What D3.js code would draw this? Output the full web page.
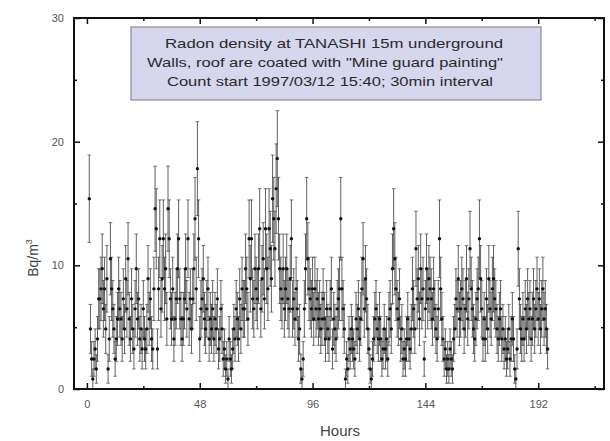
<!DOCTYPE html>
<html><head><meta charset="utf-8">
<script src="https://cdn.jsdelivr.net/npm/d3@7"></script>
<style>body{margin:0;background:#fff}svg{display:block}</style>
</head><body>
<svg id="c" width="610" height="441"></svg>
<script>
// ---- data ----
const startHour = 1;          // first count (hours after start)
const intervalHours = 0.5;    // 30 min interval
// discrete Bq/m3 levels seen in the plot and their error-bar half-lengths
const levelValue = [0,0.81,1.62,2.43,3.24,4.05,4.86,5.67,6.48,7.29,8.1,8.91,9.72,10.53,11.34,12.15,12.96,13.77,14.58,15.39,16.2,17.01,17.82,18.63];
const levelError = [0.4,0.81,1.15,1.4,1.62,1.81,1.98,2.14,2.29,2.43,2.56,2.69,2.81,2.92,3.03,3.14,3.24,3.34,3.44,3.53,3.62,3.71,3.8,3.88];
// level index of each 30-min count
const countLevel = [
19,6,3,1, 3,4,2,5, 9,9,10,12, 8,10,6,11, 2,5,13,10, 8,6,3,5, 7,10,8,7, 5,9,6,11,
8,13,7,5, 9,6,4,8, 12,7,9,5, 6,4,8,5, 4,6,11,7, 9,5,4,10, 18,16,4,10, 15,8,11,15,
10,12,7,18, 15,9,7,10, 5,7,9,12, 15,9,7,5, 7,9,12,8, 15,7,9,6, 9,12,17,10, 22,15,5,8,
9,11,7,6, 8,10,5,7, 6,8,5,7, 6,9,4,5, 8,6,3,4, 2,3,1,5, 3,2,4,6, 5,8,7,5,
9,6,10,8, 8,12,10,7, 15,11,15,9, 8,12,10,9, 12,16,8,11, 13,9,16,12, 10,16,14,11, 19,17,14,20,
23,17,12,10, 9,12,8,10, 12,9,8,11, 15,8,9,7, 10,8,5,6, 2,1,3,8, 12,17,13,10, 9,8,10,7,
10,8,9,7, 8,6,7,9, 7,5,8,6, 5,8,10,4, 7,6,5,8, 9,10,17,10, 8,6,1,3, 2,5,4,6,
5,4,3,7, 6,8,5,7, 10,13,8,11, 9,6,4,2, 1,3,5,7, 8,6,5,7, 5,3,4,6, 4,5,3,7,
8,6,12,16, 13,10,8,7, 9,5,6,3, 4,3,5,7, 5,4,6,10, 8,6,14,9, 11,7,12,9, 10,3,8,12,
9,11,10,9, 7,10,8,6, 5,8,15,10, 7,5,3,4, 2,3,2,4, 3,2,5,6, 9,8,11,7, 8,10,9,6,
8,11,7,9, 14,10,8,6, 5,7,9,10, 15,11,8,5, 7,5,9,6, 11,8,7,10, 11,9,8,6, 5,7,8,5,
6,4,5,3, 4,6,3,5, 7,5,2,1, 4,14,9,6, 5,7,5,8, 6,9,7,8, 5,7,9,6, 8,10,7,9,
6,8,10,7, 8,6,4
];
const xTicks = [0,48,96,144,192];
const xMinor = [24,72,120,168,216];
const yTicks = [0,10,20,30];
const yMinor = [5,15,25];
const legendLines = [
  "Radon density at TANASHI 15m underground",
  "Walls, roof are coated with \"Mine guard painting\"",
  "Count start 1997/03/12 15:40; 30min interval"
];

// ---- layout ----
const svg = d3.select("#c");
const L = 74, R = 604, T = 18, B = 389;
const x = d3.scaleLinear().domain([-5.5, 220]).range([L, R]);
const y = d3.scaleLinear().domain([0, 30]).range([B, T]);

const pts = countLevel.map((k, i) => ({
  h: startHour + i * intervalHours,
  v: levelValue[k],
  e: levelError[k]
}));

// error bars
const g = svg.append("g");
const barCol = "#3a3a3a";
g.selectAll("line.eb").data(pts).join("line")
  .attr("x1", d => x(d.h)).attr("x2", d => x(d.h))
  .attr("y1", d => y(Math.max(0, d.v - d.e))).attr("y2", d => y(d.v + d.e))
  .attr("stroke", barCol).attr("stroke-width", 1).attr("stroke-opacity", 0.8);
g.selectAll("line.ct").data(pts).join("line")
  .attr("x1", d => x(d.h) - 1.8).attr("x2", d => x(d.h) + 1.8)
  .attr("y1", d => y(d.v + d.e)).attr("y2", d => y(d.v + d.e))
  .attr("stroke", barCol).attr("stroke-width", 0.9).attr("stroke-opacity", 0.75);
g.selectAll("line.cb").data(pts).join("line")
  .attr("x1", d => x(d.h) - 1.8).attr("x2", d => x(d.h) + 1.8)
  .attr("y1", d => y(Math.max(0, d.v - d.e))).attr("y2", d => y(Math.max(0, d.v - d.e)))
  .attr("stroke", barCol).attr("stroke-width", 0.9).attr("stroke-opacity", 0.75);
g.selectAll("circle").data(pts).join("circle")
  .attr("cx", d => x(d.h)).attr("cy", d => y(d.v)).attr("r", 1.7)
  .attr("fill", "#111");

// legend box
svg.append("rect").attr("x", 131).attr("y", 27).attr("width", 410).attr("height", 73)
  .attr("fill", "#d6d6ec").attr("stroke", "#8a8a9a").attr("stroke-width", 1.2);
const lx = [165, 147, 167], lw = [338, 356, 326], ly = [48, 67, 86];
svg.selectAll("text.lg").data(legendLines).join("text")
  .attr("x", (d, i) => lx[i]).attr("y", (d, i) => ly[i])
  .attr("textLength", (d, i) => lw[i]).attr("lengthAdjust", "spacingAndGlyphs")
  .attr("font-family", "Liberation Sans, Arial, sans-serif").attr("font-size", 13)
  .attr("fill", "#2a2a2a").text(d => d);

// axes
const font = "Liberation Sans, Arial, sans-serif";
function styleAxis(sel) {
  sel.select(".domain").remove();
  sel.selectAll(".tick line").attr("stroke", "#111").attr("stroke-width", 1.5);
  sel.selectAll("text").attr("font-family", font).attr("font-size", 11).attr("fill", "#555");
}
svg.append("g").attr("transform", `translate(0,${B})`)
  .call(d3.axisBottom(x).tickValues(xTicks).tickSize(-6).tickPadding(11)).call(styleAxis);
svg.append("g").attr("transform", `translate(0,${B})`)
  .call(d3.axisBottom(x).tickValues(xMinor).tickSize(-3).tickFormat("")).call(styleAxis);
svg.append("g").attr("transform", `translate(0,${T})`)
  .call(d3.axisTop(x).tickValues(xTicks).tickSize(-6).tickFormat("")).call(styleAxis);
svg.append("g").attr("transform", `translate(0,${T})`)
  .call(d3.axisTop(x).tickValues(xMinor).tickSize(-3).tickFormat("")).call(styleAxis);
svg.append("g").attr("transform", `translate(${L},0)`)
  .call(d3.axisLeft(y).tickValues(yTicks).tickSize(-6).tickPadding(10)).call(styleAxis);
svg.append("g").attr("transform", `translate(${L},0)`)
  .call(d3.axisLeft(y).tickValues(yMinor).tickSize(-3).tickFormat("")).call(styleAxis);
svg.append("g").attr("transform", `translate(${R},0)`)
  .call(d3.axisRight(y).tickValues(yTicks).tickSize(-6).tickFormat("")).call(styleAxis);
svg.append("g").attr("transform", `translate(${R},0)`)
  .call(d3.axisRight(y).tickValues(yMinor).tickSize(-3).tickFormat("")).call(styleAxis);

// frame
svg.append("rect").attr("x", L).attr("y", T).attr("width", R - L).attr("height", B - T)
  .attr("fill", "none").attr("stroke", "#111").attr("stroke-width", 2);

// axis titles
svg.append("text").attr("x", 340).attr("y", 436).attr("text-anchor", "middle")
  .attr("font-family", font).attr("font-size", 15).attr("fill", "#444").text("Hours");
const yl = svg.append("text").attr("transform", "translate(38,258) rotate(-90)")
  .attr("text-anchor", "middle").attr("font-family", font).attr("font-size", 14).attr("fill", "#444");
yl.append("tspan").text("Bq/m");
yl.append("tspan").attr("dy", -6).attr("font-size", 9).text("3");
</script>
</body></html>
